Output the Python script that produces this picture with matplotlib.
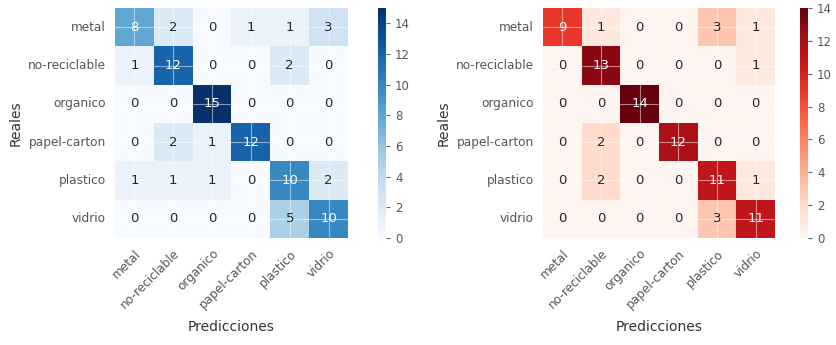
import numpy as np
import matplotlib
matplotlib.use("Agg")
import matplotlib.pyplot as plt
import seaborn as sns

clases = ["metal", "no-reciclable", "organico", "papel-carton", "plastico", "vidrio"]

# confusion matrices (rows = reales, cols = predicciones)
cm_azul = np.array([
    [8, 2, 0, 1, 1, 3],
    [1, 12, 0, 0, 2, 0],
    [0, 0, 15, 0, 0, 0],
    [0, 2, 1, 12, 0, 0],
    [1, 1, 1, 0, 10, 2],
    [0, 0, 0, 0, 5, 10],
])
cm_rojo = np.array([
    [9, 1, 0, 0, 3, 1],
    [0, 13, 0, 0, 0, 1],
    [0, 0, 14, 0, 0, 0],
    [0, 2, 0, 12, 0, 0],
    [0, 2, 0, 0, 11, 1],
    [0, 0, 0, 0, 3, 11],
])

sns.set_style("darkgrid")
plt.rcParams['font.family'] = ['DejaVu Sans']

W, H = 836, 345
fig = plt.figure(figsize=(W / 100, H / 100), dpi=100)

def panel(cm, cmap, ax_px, cb_px):
    ax = fig.add_axes([ax_px[0] / W, 1 - (ax_px[1] + ax_px[3]) / H, ax_px[2] / W, ax_px[3] / H])
    cax = fig.add_axes([cb_px[0] / W, 1 - (cb_px[1] + cb_px[3]) / H, cb_px[2] / W, cb_px[3] / H])
    sns.heatmap(cm, annot=True, fmt="d", cmap=cmap, ax=ax, cbar_ax=cax,
                xticklabels=clases, yticklabels=clases,
                annot_kws={"fontsize": 9.5})
    ax.set_axisbelow(False)
    ax.grid(True, color="white", linewidth=0.8, alpha=0.5)
    ax.tick_params(axis="both", length=3, color="#666666", labelsize=8.7, labelcolor="#555555")
    plt.setp(ax.get_xticklabels(), rotation=45, ha="right", rotation_mode="anchor")
    plt.setp(ax.get_yticklabels(), rotation=0)
    ax.set_xlabel("Predicciones", fontsize=10, color="#333333", labelpad=6)
    ax.set_ylabel("Reales", fontsize=10, color="#333333", labelpad=4)
    cax.tick_params(length=3, color="#666666", labelsize=8.5, labelcolor="#555555")
    for s in cax.spines.values():
        s.set_visible(False)
    return ax

panel(cm_azul, "Blues", (115, 8, 233, 230), (378, 8, 8, 230))
panel(cm_rojo, "Reds", (543, 8, 232, 230), (800, 8, 8, 230))

fig.savefig("out.png", dpi=100, facecolor="white")
